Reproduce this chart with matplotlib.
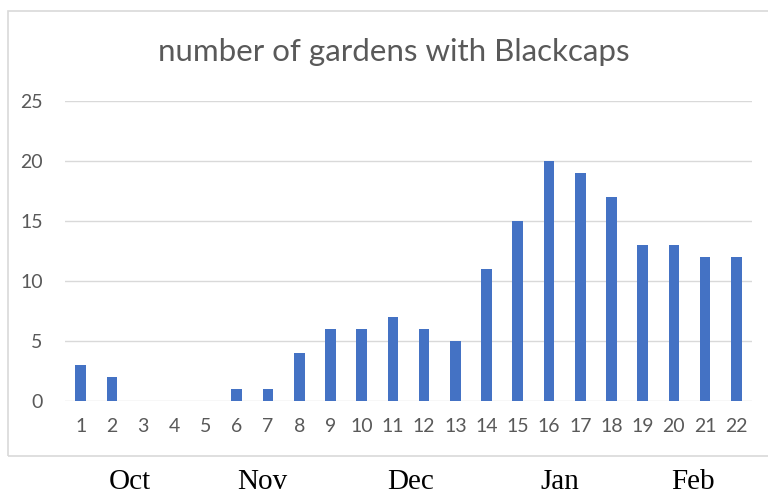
import matplotlib
matplotlib.use("Agg")
import matplotlib.pyplot as plt
from matplotlib.patches import Rectangle

weeks = list(range(1, 23))
gardens = [3, 2, 0, 0, 0, 1, 1, 4, 6, 6, 7, 6, 5, 11, 15, 20, 19, 17, 13, 13, 12, 12]
months = ["Oct", "Nov", "Dec", "Jan", "Feb"]
month_pos = [2.58, 6.81, 11.58, 16.35, 20.6]
title = "number of gardens with Blackcaps"

plt.rcParams['font.family'] = ['Lato', 'DejaVu Sans']

fig = plt.figure(figsize=(7.68, 4.95), dpi=100)
fig.patches.append(Rectangle((8/768, 1-456/495), 1.0, (456-11)/495, transform=fig.transFigure,
                             fill=False, edgecolor='#d9d9d9', linewidth=1.2))
ax = fig.add_axes([65/768, 1-401/495, (752-65)/768, 300/495])
ax.bar(weeks, gardens, width=0.34, color='#4472C4', zorder=3)
ax.set_xlim(0.5, 22.5)
ax.set_ylim(0, 25)
ax.set_yticks([0, 5, 10, 15, 20, 25])
ax.set_xticks(weeks)
ax.grid(axis='y', color='#d9d9d9', linewidth=1, zorder=0)
for s in ax.spines.values():
    s.set_visible(False)
ax.tick_params(axis='both', length=0, labelsize=14, labelcolor='#595959')
ax.tick_params(axis='x', pad=12)
ax.tick_params(axis='y', pad=16)
fig.text(394/768, 1-52/495, title, fontsize=22.5, color='#595959', ha='center', va='center')

for m, p in zip(months, month_pos):
    ax.text(p, -6.75, m, ha='center', va='center', fontsize=21, family='Liberation Serif',
            color='black', transform=ax.transData, clip_on=False)

fig.savefig("out.png", dpi=100)
